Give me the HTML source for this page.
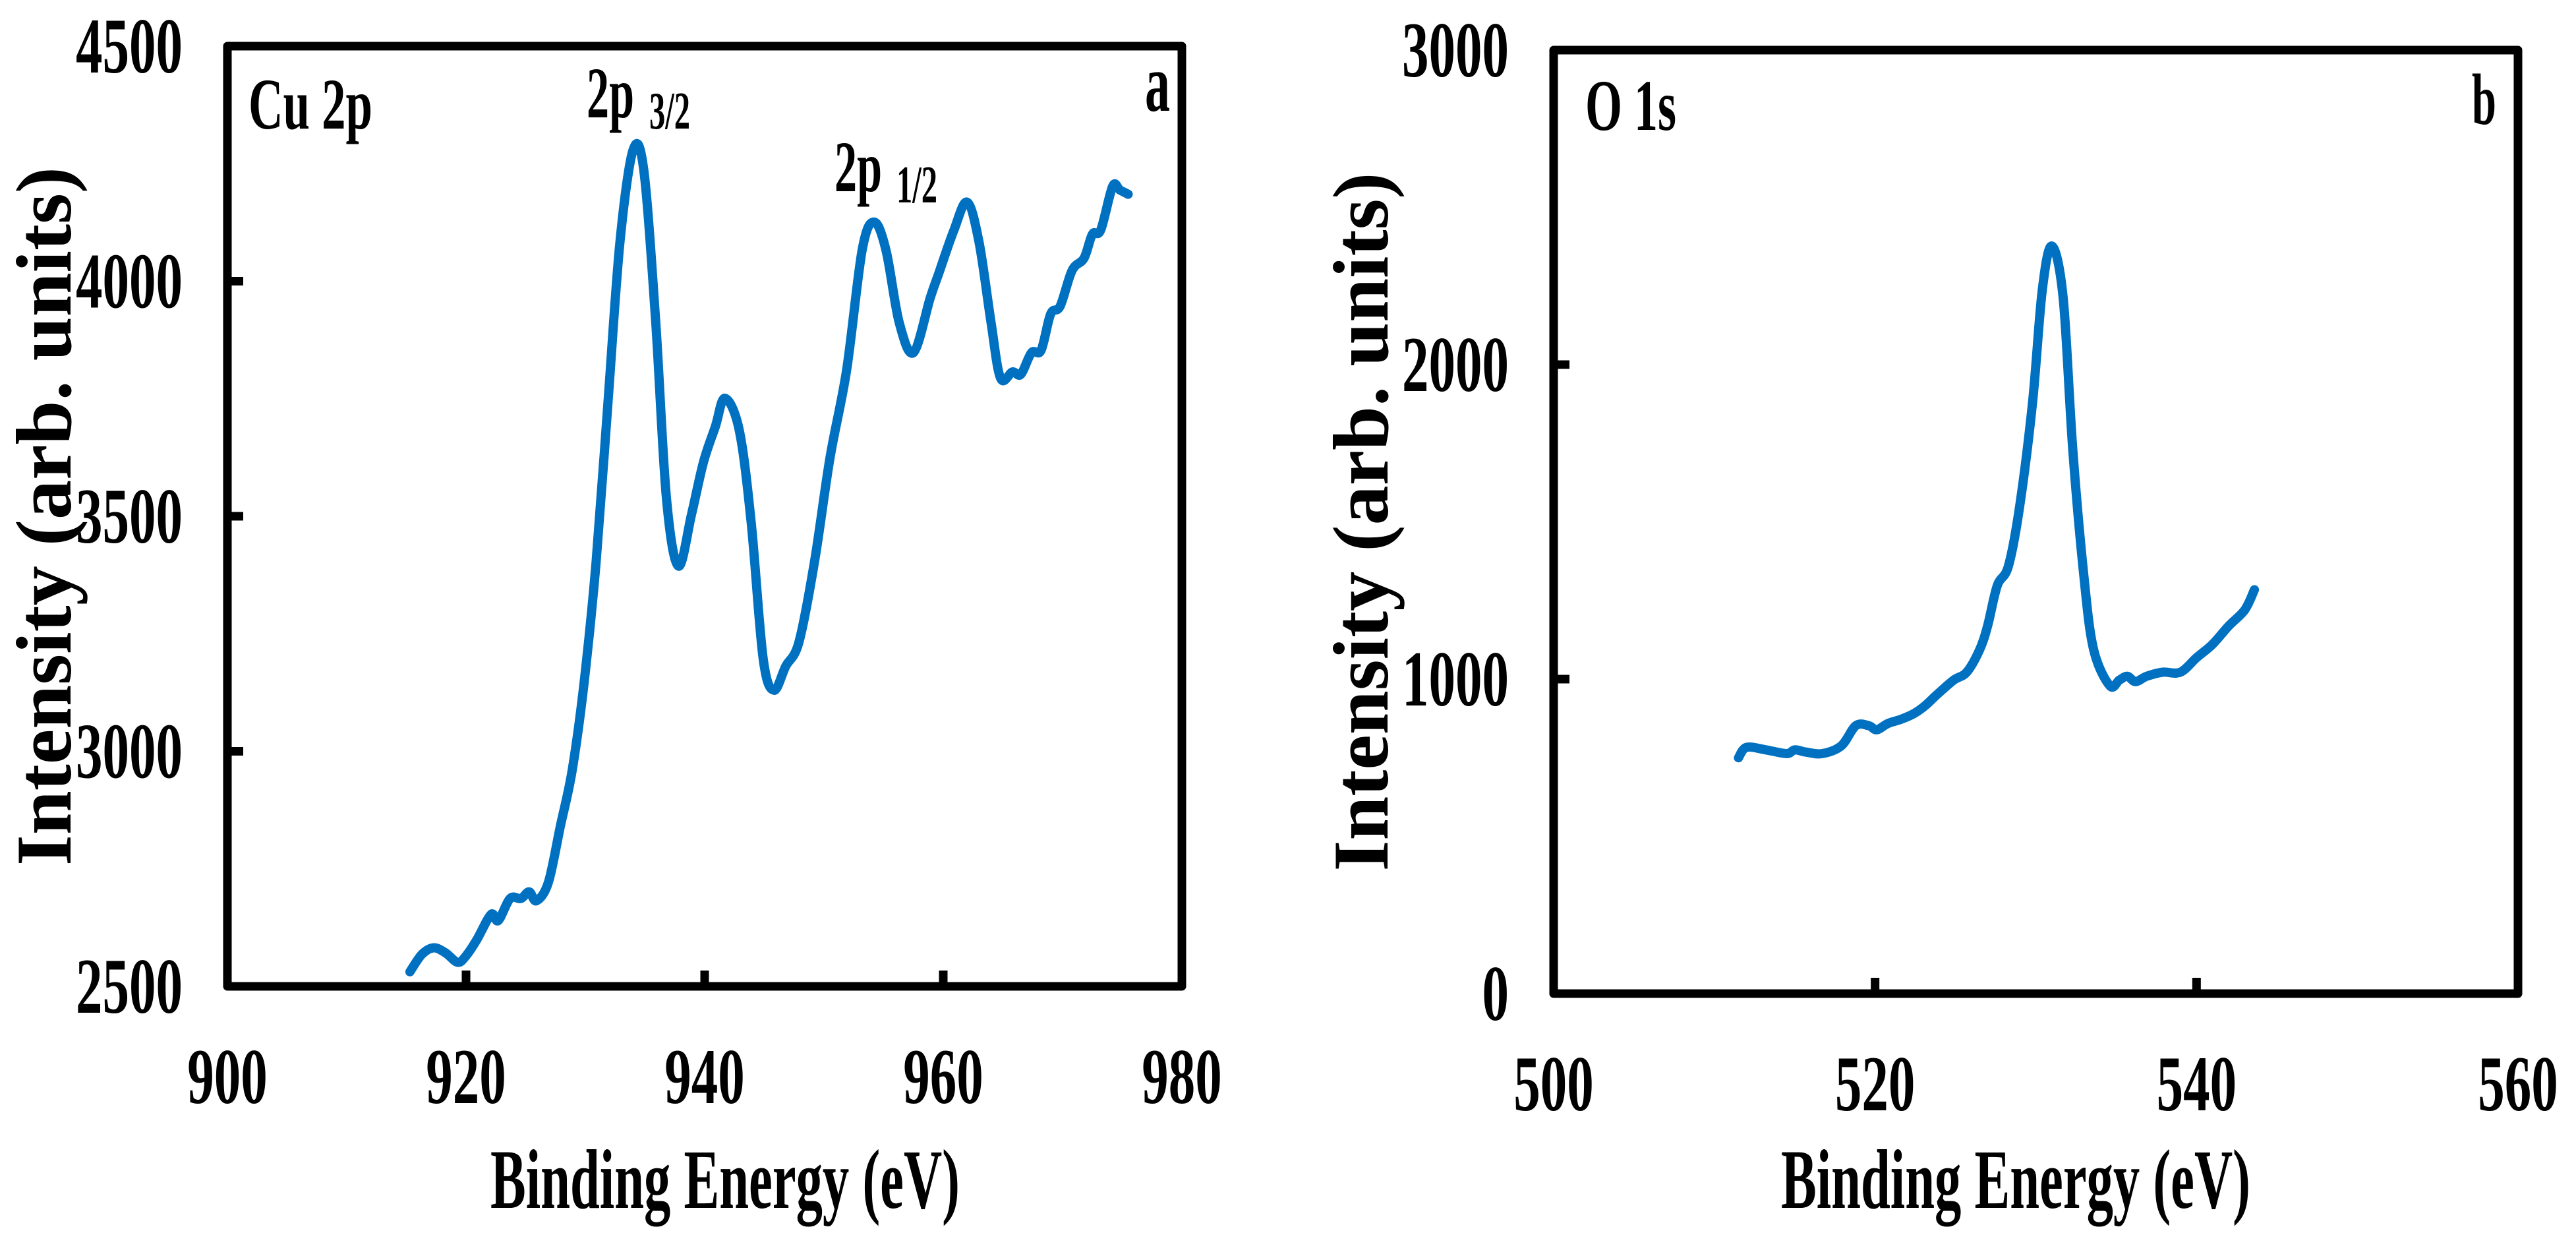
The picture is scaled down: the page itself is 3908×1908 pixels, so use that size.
<!DOCTYPE html>
<html><head><meta charset="utf-8"><style>
html,body{margin:0;padding:0;background:#fff;}
svg{display:block;}
text{font-family:"Liberation Serif","Times New Roman",serif;font-weight:bold;fill:#000;}
</style></head><body>
<svg id="chart" width="3908" height="1908" viewBox="0 0 3908 1908" xmlns="http://www.w3.org/2000/svg"></svg>
<script>
// ---- Panel a: Cu 2p ----
const cuEnergy = [915.3,916.3,917.3,918.3,919.3,920.0,920.9,922.1,922.7,923.7,924.6,925.3,925.9,926.9,927.9,928.9,929.9,930.9,931.9,932.9,934.0,934.9,935.9,936.8,937.8,938.9,939.9,940.9,941.7,942.9,943.9,944.9,945.8,946.8,947.9,949.2,950.5,951.9,953.2,954.2,955.2,956.3,957.5,958.9,959.6,960.9,962.0,963.0,964.0,964.8,965.8,966.5,967.4,968.2,969.0,969.8,970.8,971.8,972.5,973.2,974.2,974.8,975.5];
const cuIntensity = [2531,2568,2582,2571,2551,2565,2599,2653,2640,2687,2687,2701,2682,2721,2840,2960,3147,3402,3743,4083,4279,4236,3913,3538,3394,3504,3615,3691,3751,3683,3487,3198,3130,3181,3232,3402,3623,3811,4066,4126,4066,3913,3848,3964,4015,4109,4168,4083,3913,3794,3807,3802,3848,3853,3930,3947,4023,4049,4100,4109,4202,4194,4185];
const cuXTicks = [900,920,940,960,980];
const cuYTicks = [2500,3000,3500,4000,4500];
// ---- Panel b: O 1s ----
const oEnergy = [511.5,512.0,513.2,514.5,515.0,515.7,516.7,517.9,518.8,519.6,520.1,520.8,521.6,522.4,523.1,523.9,524.9,525.7,526.5,527.0,527.6,528.3,529.0,529.8,530.4,531.0,531.7,532.3,533.0,533.6,534.6,535.2,535.7,536.2,536.9,537.9,539.0,540.0,541.0,542.0,543.0,543.6];
const oIntensity = [750,783,775,763,775,768,763,788,852,852,839,859,872,890,915,953,997,1022,1093,1169,1297,1360,1551,1881,2237,2377,2212,1729,1322,1093,979,997,1009,992,1009,1022,1022,1068,1111,1169,1220,1284];
const oXTicks = [500,520,540,560];
const oYTicks = [0,1000,2000,3000];

const NS = "http://www.w3.org/2000/svg";
const svg = document.getElementById('chart');
function mk(tag, attrs, parent){
  const e = document.createElementNS(NS, tag);
  for (const k in attrs) e.setAttribute(k, attrs[k]);
  (parent||svg).appendChild(e);
  return e;
}
function txt(parent, s, x, y, size, anchor, len){
  const t = mk('text', {x:x, y:y, 'font-size':size, 'text-anchor':anchor}, parent);
  if (len) { t.setAttribute('textLength', len); t.setAttribute('lengthAdjust','spacingAndGlyphs'); }
  t.textContent = s;
  return t;
}
function smoothPath(pts){
  let d = 'M' + pts[0][0].toFixed(1) + ',' + pts[0][1].toFixed(1);
  for (let i = 0; i < pts.length - 1; i++) {
    const p0 = pts[Math.max(0, i-1)], p1 = pts[i], p2 = pts[i+1], p3 = pts[Math.min(pts.length-1, i+2)];
    const c1x = p1[0] + (p2[0]-p0[0])/6, c1y = p1[1] + (p2[1]-p0[1])/6;
    const c2x = p2[0] - (p3[0]-p1[0])/6, c2y = p2[1] - (p3[1]-p1[1])/6;
    d += 'C' + c1x.toFixed(1) + ',' + c1y.toFixed(1) + ' ' + c2x.toFixed(1) + ',' + c2y.toFixed(1) + ' ' + p2[0].toFixed(1) + ',' + p2[1].toFixed(1);
  }
  return d;
}

function panel(cfg){
  const g = mk('g', {});
  
  
  const sx = v => cfg.L + (v - cfg.xmin) / (cfg.xmax - cfg.xmin) * (cfg.R - cfg.L);
  const sy = v => cfg.B - (v - cfg.ymin) / (cfg.ymax - cfg.ymin) * (cfg.B - cfg.T);
  const fr = mk('rect', {x:cfg.L, y:cfg.T, width:cfg.R-cfg.L, height:cfg.B-cfg.T, fill:'none', stroke:'#000', 'stroke-width':13, 'stroke-linejoin':'round'}, g);
  
  
  cfg.xt.forEach(v => {
    const x = sx(v);
    if (v !== cfg.xmin && v !== cfg.xmax) {
      const tk = mk('line', {x1:x, x2:x, y1:cfg.B, y2:cfg.B-24, stroke:'#000', 'stroke-width':13}, g);
      
      
    }
    const s = String(v);
    const lb = txt(g, s, x, cfg.B + 177, 120, 'middle', s.length*40.5);
    
    
  });
  cfg.yt.forEach(v => {
    const y = sy(v);
    if (v !== cfg.ymin && v !== cfg.ymax) {
      const tk = mk('line', {x1:cfg.L, x2:cfg.L+24, y1:y, y2:y, stroke:'#000', 'stroke-width':13}, g);
      
      
    }
    const s = String(v);
    const lb = txt(g, s, cfg.L - 68, y + 40, 120, 'end', s.length*40.5);
    
    
  });
  const pts = cfg.xs.map((v,i) => [sx(v), sy(cfg.ys[i])]);
  const p = mk('path', {d:smoothPath(pts), fill:'none', stroke:'#0070C0', 'stroke-width':14, 'stroke-linejoin':'round', 'stroke-linecap':'round'}, g);
  
  
  const xt = txt(g, 'Binding Energy (eV)', cfg.xTitleX, 1832, 128, 'middle', 712);
  
  
  const yt = txt(g, 'Intensity (arb. units)', 0, 0, 120, 'middle', 1060);
  yt.setAttribute('transform', 'translate(' + cfg.yTitleX + ',' + ((cfg.T+cfg.B)/2) + ') rotate(-90)');
  
  
  return g;
}

const ga = panel({name:'panel-a-cu2p', L:345, R:1793, T:70, B:1496, xmin:900, xmax:980, ymin:2500, ymax:4500, xt:cuXTicks, yt:cuYTicks, xs:cuEnergy, ys:cuIntensity, seriesName:'cu-2p-spectrum', xTitleX:1100, yTitleX:107});
const gb = panel({name:'panel-b-o1s', L:2357, R:3820, T:76, B:1507, xmin:500, xmax:560, ymin:0, ymax:3000, xt:oXTicks, yt:oYTicks, xs:oEnergy, ys:oIntensity, seriesName:'o-1s-spectrum', xTitleX:3058, yTitleX:2105});

let t;
t = txt(ga, 'Cu 2p', 377, 195, 110, 'start', 188);


t = txt(ga, 'a', 1775, 168, 125, 'end', 38);


t = txt(ga, '2p', 890, 178, 110, 'start', 72);


t = txt(ga, '3/2', 985, 195, 80, 'start', 62);


t = txt(ga, '2p', 1266, 290, 110, 'start', 72);


t = txt(ga, '1/2', 1360, 307, 80, 'start', 62);


t = txt(gb, 'O 1s', 2405, 197, 110, 'start', 138);


t = txt(gb, 'b', 3787, 188, 110, 'end', 37);


</script>
</body></html>
